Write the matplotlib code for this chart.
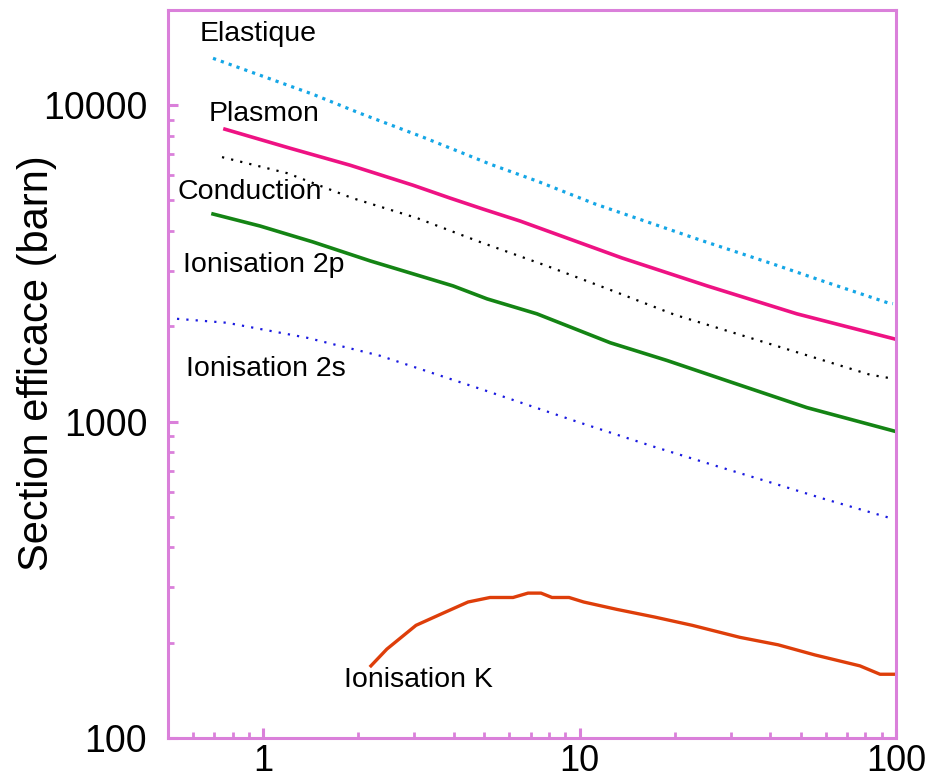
import matplotlib
matplotlib.use("Agg")
import matplotlib.pyplot as plt
from matplotlib.ticker import FixedLocator, NullFormatter, LogLocator

plt.rcParams['font.family'] = ['Liberation Sans', 'DejaVu Sans']

# ---- data ----
elastique_x = [0.694, 1.436, 2.02, 3.20, 5.21, 7.33, 11.2, 24.0, 40.8, 61.0, 94.3, 97.8]
elastique_y = [14070, 10830, 9435, 7925, 6515, 5760, 4873, 3751, 3150, 2745, 2373, 2360]

plasmon_x = [0.757, 1.215, 1.88, 2.97, 3.89, 4.95, 6.48, 13.6, 25.3, 48.6, 100]
plasmon_y = [8400, 7315, 6465, 5590, 5090, 4697, 4306, 3291, 2685, 2191, 1820]

conduction_x = [0.741, 1.19, 1.91, 3.06, 4.84, 7.88, 12.5, 20.0, 32.1, 51.6, 82.7, 97.8]
conduction_y = [6855, 6100, 5090, 4400, 3697, 3105, 2608, 2175, 1882, 1627, 1407, 1367]

ion2p_x = [0.694, 0.977, 1.436, 2.18, 3.98, 5.10, 7.33, 12.5, 18.9, 30.5, 52.3, 100]
ion2p_y = [4531, 4152, 3697, 3220, 2685, 2443, 2191, 1775, 1560, 1327, 1107, 930]

ion2s_x = [0.534, 0.768, 1.375, 2.34, 4.95, 10.0, 17.1, 27.4, 42.1, 58.8, 94.3]
ion2s_y = [2113, 2053, 1841, 1615, 1261, 993, 834, 721, 633, 571, 498]

ionK_x = [2.19, 2.46, 3.04, 3.70, 4.44, 5.21, 6.16, 6.87, 7.55, 8.18, 9.26, 10.3,
          13.1, 17.3, 22.7, 32.1, 42.4, 55.4, 76.9, 89.0, 100]
ionK_y = [169, 191, 227, 248, 269, 278, 278, 287, 287, 278, 278, 269,
          255, 241, 227, 208, 197, 183, 169, 159, 159]

labels = ["Elastique", "Plasmon", "Conduction", "Ionisation 2p", "Ionisation 2s", "Ionisation K"]
label_x = [0.631, 0.674, 0.534, 0.558, 0.570, 1.80]
label_y = [16750, 9370, 5315, 3128, 1470, 152]

x_ticks = [1, 10, 100]
x_ticklabels = ["1", "10", "100"]
y_ticks = [100, 1000, 10000]
y_ticklabels = ["100", "1000", "10000"]
y_label = "Section efficace (barn)"

# ---- figure ----
fig = plt.figure(figsize=(9.29, 7.81), dpi=100)
ax = fig.add_axes([0.1808, 0.0551, 0.9645 - 0.1808, 0.9872 - 0.0551])
ax.set_xscale('log')
ax.set_yscale('log')
ax.set_xlim(0.5, 100)
ax.set_ylim(100, 20000)

ax.plot(elastique_x, elastique_y, color='#14A6E6', lw=2.3,
        linestyle=(0, (1.0, 1.6)), dash_capstyle='butt')
ax.plot(plasmon_x, plasmon_y, color='#EE1283', lw=2.6, solid_joinstyle='round')
ax.plot(conduction_x, conduction_y, color='black', lw=1.6,
        linestyle=(0, (1.0, 3.2)), dash_capstyle='butt')
ax.plot(ion2p_x, ion2p_y, color='#148414', lw=2.6)
ax.plot(ion2s_x, ion2s_y, color='#1A1AE0', lw=1.6,
        linestyle=(0, (1.0, 3.2)), dash_capstyle='butt')
ax.plot(ionK_x, ionK_y, color='#DE3E0A', lw=2.4)

for t, lx, ly in zip(labels, label_x, label_y):
    ax.text(lx, ly, t, fontsize=20.5, ha='left', va='center', color='black')

spine_col = '#DA80DA'
for s in ax.spines.values():
    s.set_color(spine_col)
    s.set_linewidth(2.2)

ax.xaxis.set_major_locator(FixedLocator(x_ticks))
ax.set_xticklabels(x_ticklabels)
ax.yaxis.set_major_locator(FixedLocator(y_ticks))
ax.set_yticklabels(y_ticklabels)
ax.xaxis.set_minor_locator(LogLocator(base=10, subs=range(2, 10)))
ax.yaxis.set_minor_locator(LogLocator(base=10, subs=range(2, 10)))
ax.xaxis.set_minor_formatter(NullFormatter())
ax.yaxis.set_minor_formatter(NullFormatter())

ax.tick_params(which='both', direction='in', color=spine_col, top=False, right=False)
ax.tick_params(which='major', length=7, width=2.2)
ax.tick_params(which='minor', length=4, width=2.0)
ax.tick_params(axis='y', which='major', pad=15, labelsize=27)
ax.tick_params(axis='x', which='major', pad=4, labelsize=26)

ax.set_ylabel(y_label, fontsize=30)
ax.yaxis.set_label_coords(-0.152, 0.515)

fig.savefig("out.png", dpi=100)
